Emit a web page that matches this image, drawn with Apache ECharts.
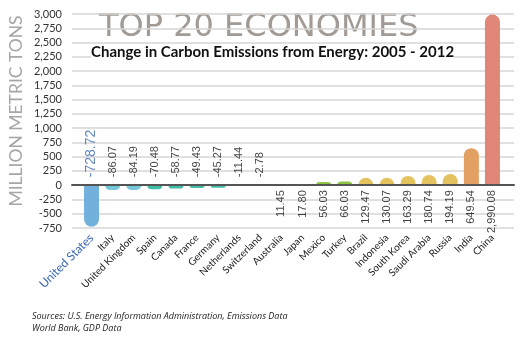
<!DOCTYPE html>
<html><head><meta charset="utf-8">
<script src="https://cdn.jsdelivr.net/npm/echarts@6/dist/echarts.min.js"></script>
<style>html,body{margin:0;padding:0;background:#fff}#c{width:524px;height:340px}</style>
</head><body><div id="c"></div>
<script>
const countries = ['United States','Italy','United Kingdom','Spain','Canada','France','Germany','Netherlands','Switzerland','Australia','Japan','Mexico','Turkey','Brazil','Indonesia','South Korea','Saudi Arabia','Russia','India','China'];
const changes = [-728.72,-86.07,-84.19,-70.48,-58.77,-49.43,-45.27,-11.44,-2.78,11.45,17.80,56.03,66.03,129.47,130.07,163.29,180.74,194.19,649.54,2990.08];
const yMin = -750, yMax = 3000, yStep = 250;
const titleText = 'TOP 20 ECONOMIES';
const subtitleText = 'Change in Carbon Emissions from Energy: 2005 - 2012';
const yAxisTitle = 'MILLION METRIC TONS';
const sourceLines = ['Sources: U.S. Energy Information Administration, Emissions Data','World Bank, GDP Data'];

const barColors = ['#72b1dc','#74c8da','#74c8da','#3fbea6','#3fbea6','#3fbea6','#3fbea6','#3fbea6','#3fbea6','#8dc443','#8dc443','#8dc443','#8dc443','#e4c35e','#e4c35e','#e4c35e','#e4c35e','#e4c35e','#e2a062','#e08676'];
const hiColor = '#3a68b3';

const fmt = v => v.toLocaleString('en-US',{minimumFractionDigits:2,maximumFractionDigits:2});

const chart = echarts.init(document.getElementById('c'), null, {renderer:'canvas'});
const gTop = 14, gBottom = 112;
chart.setOption({
  animation:false,
  title:[
    {text:titleText, left:94, top:7, z:0, textStyle:{fontFamily:'DejaVu Sans', fontSize:32, fontWeight:'normal', color:'#a29a94'}},
    {text:subtitleText, left:91, top:44, z:10, padding:[1,0,1,0], backgroundColor:'#fff', textStyle:{fontFamily:'Lato', fontSize:15, fontWeight:'bold', color:'#111'}},
  ],
  graphic:[
    {type:'text', x:16, y:111, z:10, rotation:Math.PI/2,
     style:{text:yAxisTitle, font:'17.5px Lato', fill:'#a7a7a7', textAlign:'center', textVerticalAlign:'middle'}},
    {type:'text', x:32, y:310, style:{text:sourceLines.join('\n'), font:'italic 9px "Open Sans"', fill:'#222', lineHeight:12}}
  ],
  grid:[
    {left:72, right:10, top:gTop, bottom:gBottom},
    {left:81, right:21, top:gTop, bottom:gBottom}
  ],
  xAxis:[
    {gridIndex:0, type:'category', data:[''], axisLine:{show:true, onZero:true, lineStyle:{color:'#555', width:2}}, axisTick:{show:false}, axisLabel:{show:false}, z:8},
    {gridIndex:1, type:'category', data:countries, axisLine:{show:false}, axisTick:{show:false},
     axisLabel:{interval:0, rotate:45, margin:8, fontFamily:'Lato', fontSize:10, color:'#222',
       formatter:(v)=> v==='United States' ? '{hi|'+v+'}' : v,
       rich:{hi:{fontFamily:'Lato', fontSize:12, color:hiColor}}}}
  ],
  yAxis:[
    {gridIndex:0, type:'value', min:yMin, max:yMax, interval:yStep, z:1,
     axisLine:{show:false}, axisTick:{show:false},
     axisLabel:{margin:10, fontFamily:'Lato', fontSize:11, color:'#333', formatter:v=>v.toLocaleString('en-US')},
     splitLine:{lineStyle:{color:'#d6d6d6', width:1.5}}},
    {gridIndex:1, type:'value', min:yMin, max:yMax, interval:yStep, show:false}
  ],
  series:[
    {type:'bar', xAxisIndex:1, yAxisIndex:1, barWidth:15, z:3,
     data: changes.map((v,i)=>({value:v, itemStyle:{color:barColors[i], borderRadius: v<0?[0,0,8,8]:[8,8,0,0]}}))},
    {type:'scatter', xAxisIndex:1, yAxisIndex:1, symbolSize:0, z:4,
     data: changes.map((v,i)=>({value:[i,0], label:{show:true, position:'inside', rotate:90,
        align: v<0?'left':'right', verticalAlign:'middle', offset: v<0?[8,0]:[-5,0],
        formatter: fmt(v), fontFamily:'Liberation Sans', fontSize: i===0?14:11, color: i===0?hiColor:'#111'}}))}
  ]
});
</script></body></html>
